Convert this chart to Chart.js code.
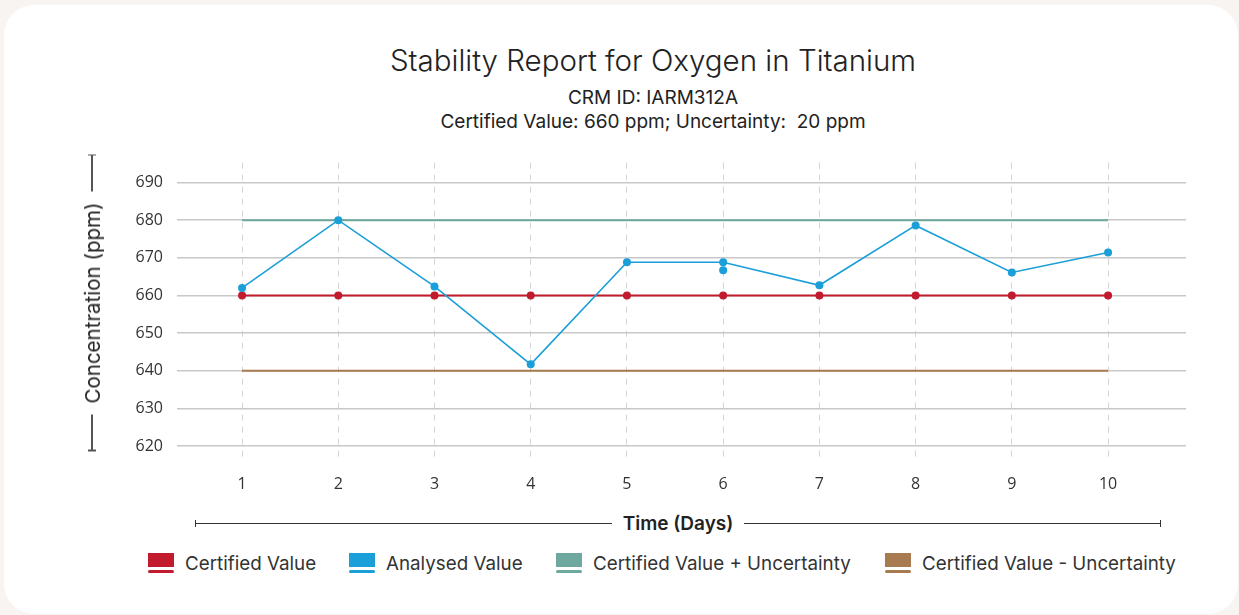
<!DOCTYPE html>
<html>
<head>
<meta charset="utf-8">
<script src="https://cdn.jsdelivr.net/npm/chart.js@4.4.1/dist/chart.umd.min.js"></script>
<style>
  html, body { margin: 0; padding: 0; }
  body { width: 1239px; height: 615px; background: #f7f4f1; position: relative; overflow: hidden; font-family: Inter, "Noto Sans", sans-serif; color: #222; }
  .card { position: absolute; left: 4px; top: 5px; width: 1234px; height: 609px; background: #fff; border-radius: 30px; }
  .title { position: absolute; left: 0; width: 1306px; top: 42px; text-align: center; font-size: 29.5px; font-weight: 300; color: #222; }
  .sub { position: absolute; left: 0; width: 1306px; text-align: center; font-size: 19px; font-weight: 400; color: #222; }
  #chartBox { position: absolute; left: 0; top: 139px; width: 1239px; height: 361px; }
  .ytitle { position: absolute; left: 92px; top: 303px; width: 297px; height: 26px; transform: translate(-50%, -50%) rotate(-90deg); display: flex; align-items: center; font-size: 20.5px; color: #222; }
  .xtitle { position: absolute; left: 195px; top: 511px; width: 966px; height: 24px; display: flex; align-items: center; font-size: 19px; font-weight: 600; color: #222; }
  .line { flex: 1; height: 1px; background: #333; }
  .cap { width: 1px; height: 7px; background: #333; }
  .ytitle .line, .ytitle .cap { background: #555; }
  .ytitle .line { height: 1.5px; }
  .ytitle .cap { width: 1.5px; height: 8px; }
  .lbl { padding: 0 11px; white-space: nowrap; }
  .legend { position: absolute; top: 551px; left: 0; width: 1239px; height: 26px; }
  .item { position: absolute; top: 0; display: flex; align-items: flex-start; font-size: 18.8px; color: #333; }
  .sw { width: 26px; height: 24px; position: relative; margin-right: 11px; }
  .sw .b { position: absolute; left: 0; top: 2px; width: 26px; height: 14px; }
  .sw .u { position: absolute; left: 0; top: 19px; width: 26px; height: 3px; border-radius: 2px; }
  .item span { line-height: 26px; }
</style>
</head>
<body>
<div class="card"></div>
<div class="title">Stability Report for Oxygen in Titanium</div>
<div class="sub" style="top:86px">CRM ID: IARM312A</div>
<div class="sub" style="top:110px">Certified Value: 660 ppm; Uncertainty:&nbsp; 20 ppm</div>
<div id="chartBox"><canvas id="c"></canvas></div>
<div class="ytitle"><div class="cap"></div><div class="line"></div><div class="lbl">Concentration (ppm)</div><div class="line"></div><div class="cap"></div></div>
<div class="xtitle"><div class="cap"></div><div class="line"></div><div class="lbl">Time (Days)</div><div class="line"></div><div class="cap"></div></div>
<div class="legend" id="legend"></div>
<script>
// ---- data ----
const days = [1, 2, 3, 4, 5, 6, 7, 8, 9, 10];
const analysedValues = [662, 680, 662.4, 641.7, 668.8, 668.8, 662.7, 678.6, 666.1, 671.4];
const extraDays = [6];
const extraValues = [666.7];
const certifiedValues = [660, 660, 660, 660, 660, 660, 660, 660, 660, 660];
const upperValues = [680, 680, 680, 680, 680, 680, 680, 680, 680, 680];
const lowerValues = [640, 640, 640, 640, 640, 640, 640, 640, 640, 640];
const yTicks = [620, 630, 640, 650, 660, 670, 680, 690];
const seriesNames = ['Certified Value', 'Analysed Value', 'Certified Value + Uncertainty', 'Certified Value - Uncertainty'];
const seriesColors = ['#c11b2d', '#1a9fd9', '#6fa89e', '#a87a4f'];

const pts = (xs, ys) => xs.map((x, i) => ({ x: x, y: ys[i] }));

// ---- legend (HTML) ----
const legendLeft = [148, 349, 556, 885];
const lg = document.getElementById('legend');
seriesNames.forEach((n, i) => {
  const d = document.createElement('div');
  d.className = 'item';
  d.style.left = legendLeft[i] + 'px';
  d.innerHTML = '<div class="sw"><div class="b" style="background:' + seriesColors[i] + '"></div><div class="u" style="background:' + seriesColors[i] + '"></div></div><span>' + n + '</span>';
  lg.appendChild(d);
});

// ---- chart ----
new Chart(document.getElementById('c'), {
  type: 'line',
  data: {
    datasets: [
      { label: seriesNames[2], data: pts(days, upperValues), borderColor: seriesColors[2], borderWidth: 2, pointRadius: 0, order: 4 },
      { label: seriesNames[3], data: pts(days, lowerValues), borderColor: seriesColors[3], borderWidth: 2, pointRadius: 0, order: 3 },
      { label: seriesNames[0], data: pts(days, certifiedValues), borderColor: seriesColors[0], backgroundColor: seriesColors[0], borderWidth: 2, pointRadius: 4, pointBorderWidth: 0, order: 2 },
      { label: seriesNames[1], data: pts(days, analysedValues), borderColor: seriesColors[1], backgroundColor: seriesColors[1], borderWidth: 1.6, pointRadius: 4, pointBorderWidth: 0, order: 1 },
      { label: 'extra', data: pts(extraDays, extraValues), showLine: false, borderColor: seriesColors[1], backgroundColor: seriesColors[1], pointRadius: 4, pointBorderWidth: 0, order: 0 }
    ]
  },
  options: {
    responsive: true,
    maintainAspectRatio: false,
    animation: false,
    layout: { padding: { top: 1, right: 53, left: 0, bottom: 0 } },
    plugins: { legend: { display: false }, title: { display: false }, tooltip: { enabled: false } },
    scales: {
      x: {
        type: 'linear',
        min: 0.324,
        max: 10.81,
        afterBuildTicks: (s) => { s.ticks = days.map(v => ({ value: v })); },
        afterFit: (s) => { s.height = 42; },
        ticks: { padding: 17, color: '#333', font: { family: '"Open Sans", "Noto Sans", sans-serif', size: 16 } },
        grid: { color: '#d4d4d4', lineWidth: 1, drawTicks: false },
        border: { display: false, dash: [6, 6] }
      },
      y: {
        type: 'linear',
        min: 616.8,
        max: 695.3,
        afterBuildTicks: (s) => { s.ticks = yTicks.map(v => ({ value: v })); },
        afterFit: (s) => { s.width = 177; },
        ticks: { padding: 14, color: '#333', font: { family: '"Open Sans", "Noto Sans", sans-serif', size: 16 } },
        grid: { color: '#c8c8c8', lineWidth: 1.5, drawTicks: false },
        border: { display: false }
      }
    }
  }
});
</script>
</body>
</html>
